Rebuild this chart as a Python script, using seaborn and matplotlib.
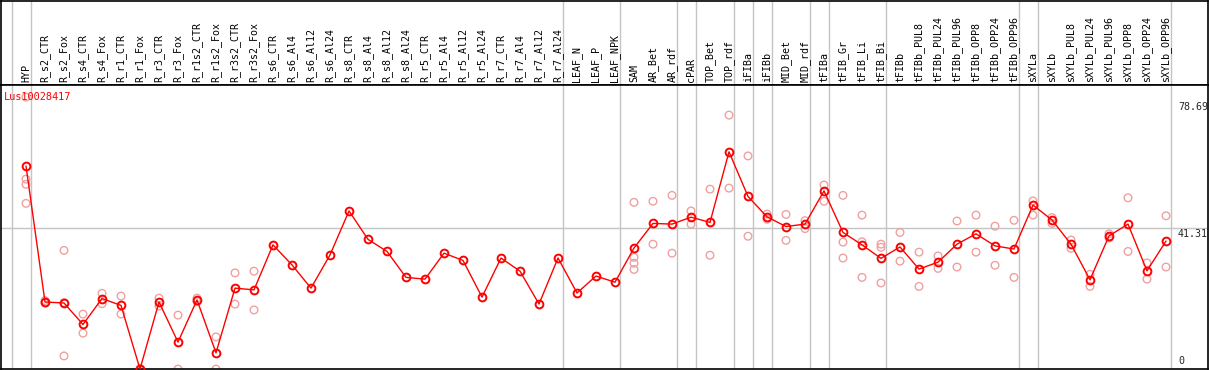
import seaborn as sns
import pandas as pd
import numpy as np
import matplotlib.pyplot as plt

# sample names (one column each)
samples = ["HYP", "R_s2_CTR", "R_s2_Fox", "R_s4_CTR", "R_s4_Fox", "R_r1_CTR", "R_r1_Fox",
           "R_r3_CTR", "R_r3_Fox", "R_r1s2_CTR", "R_r1s2_Fox", "R_r3s2_CTR", "R_r3s2_Fox",
           "R_s6_CTR", "R_s6_Al4", "R_s6_Al12", "R_s6_Al24", "R_s8_CTR", "R_s8_Al4",
           "R_s8_Al12", "R_s8_Al24", "R_r5_CTR", "R_r5_Al4", "R_r5_Al12", "R_r5_Al24",
           "R_r7_CTR", "R_r7_Al4", "R_r7_Al12", "R_r7_Al24", "LEAF_N", "LEAF_P", "LEAF_NPK",
           "SAM", "AR_Bet", "AR_rdf", "cPAR", "TOP_Bet", "TOP_rdf", "iFIBa", "iFIBb",
           "MID_Bet", "MID_rdf", "tFIBa", "tFIB_Gr", "tFIB_Li", "tFIB_Bi", "tFIBb",
           "tFIBb_PUL8", "tFIBb_PUL24", "tFIBb_PUL96", "tFIBb_OPP8", "tFIBb_OPP24",
           "tFIBb_OPP96", "sXYLa", "sXYLb", "sXYLb_PUL8", "sXYLb_PUL24", "sXYLb_PUL96",
           "sXYLb_OPP8", "sXYLb_OPP24", "sXYLb_OPP96"]

# mean expression per sample
means = [59.1, 19.8, 19.5, 13.3, 20.8, 18.8, 0.4, 19.8, 8.2, 20.4, 5.1, 23.8, 23.3,
         36.3, 30.5, 23.8, 33.4, 46.1, 37.9, 34.4, 26.9, 26.4, 33.9, 31.8, 21.2,
         32.5, 28.7, 19.2, 32.5, 22.4, 27.3, 25.5,
         35.4, 42.5, 42.3, 44.3, 42.8, 63.2, 50.3, 44.4, 41.6, 42.3, 51.9, 39.9,
         36.3, 32.4, 35.7, 29.3, 31.3, 36.5, 39.5, 36.0, 35.1, 47.8, 43.5, 36.5,
         26.2, 38.9, 42.3, 28.8, 37.4]

# individual replicates per sample
replicates = [[79.0, 55.3, 53.8, 48.3], [19.5, 20.2], [34.7, 19.6, 4.2], [16.3, 10.8],
              [22.3, 19.3], [21.5, 16.3], [0.2, 0.6], [20.9, 18.6], [16.0, 0.4],
              [20.9, 19.9], [9.7, 0.4], [28.2, 19.2], [28.7, 17.5],
              [], [], [], [], [], [], [], [], [], [], [], [], [], [], [], [], [], [], [],
              [48.6, 32.7, 31.0, 29.2], [48.9, 36.5], [50.6, 33.9], [46.1, 42.3],
              [52.4, 33.3], [73.8, 52.7], [62.0, 38.8], [45.2, 43.7], [45.1, 37.6],
              [43.3, 41.0], [53.6, 48.9], [50.6, 37.1, 32.5], [44.9, 37.2, 26.9],
              [36.5, 35.6, 25.3], [39.9, 31.6], [34.2, 24.3], [33.1, 29.5],
              [43.2, 29.9], [44.9, 34.2], [41.7, 30.4], [43.4, 26.9], [49.0, 44.9],
              [44.2, 42.5], [37.7, 35.3], [27.8, 24.3], [39.5, 38.3], [49.9, 34.4],
              [31.1, 26.4], [44.7, 29.9]]

# group separators (gray lines sit just right of these columns)
separators = [-1, 0, 28, 31, 34, 35, 37, 38, 39, 41, 42, 45, 52, 53, 60]
gene = "Lus10028417"
y_marks = [78.69, 41.31, 0]

pos = np.arange(len(samples))
mean_df = pd.DataFrame({"pos": pos, "value": means})
rep_df = pd.DataFrame([(i, v) for i, reps in enumerate(replicates) for v in reps],
                      columns=["pos", "value"])

sns.set_style("white")
plt.rcParams["font.family"] = ["DejaVu Sans Mono", "DejaVu Sans"]

W, H = 1209, 370
fig = plt.figure(figsize=(W / 100, H / 100), dpi=100)
ax_head = fig.add_axes([1 / W, (H - 85) / H, 1207 / W, 84.5 / H])
ax = fig.add_axes([1 / W, 1 / H, 1207 / W, 284 / H])

xlim = ((1 - 26) / 19, (1208 - 26) / 19)
for a in (ax_head, ax):
    a.set_xlim(*xlim)
    a.set_xticks([])
    a.set_yticks([])
    for s in a.spines.values():
        s.set_color("black")
        s.set_linewidth(1.2)
    for sep in separators:
        a.axvline(sep + 0.24, color="#c4c4c4", lw=1, zorder=0)

ax_head.set_ylim(0, 1)
for i, name in enumerate(samples):
    ax_head.text(i, 0.03, name, rotation=90, ha="center", va="bottom",
                 fontsize=7.2, color="black")

ax.set_ylim(0.43, 82.5)
ax.axhline(41.31, color="#c4c4c4", lw=1, zorder=0)

# replicates
sns.scatterplot(data=rep_df, x="pos", y="value", ax=ax, s=30, marker="o",
                linewidth=1, zorder=2, legend=False)
pts = ax.collections[-1]
pts.set_facecolor("none")
pts.set_edgecolor("#f0a0a0")

# means
sns.lineplot(data=mean_df, x="pos", y="value", ax=ax, color="red", lw=1,
             marker="o", markersize=5.6, markerfacecolor="none",
             markeredgecolor="red", markeredgewidth=1.4, zorder=3)
ax.set_xlabel("")
ax.set_ylabel("")
ax.set_xticks([])
ax.set_yticks([])

ax.text(3 / 1207, 1 - 7 / 284, gene, transform=ax.transAxes, ha="left", va="top",
        fontsize=7.4, color="red")

ylo, yhi = ax.get_ylim()
for v in y_marks:
    if v <= ylo + 1:
        ax.annotate(f"{v:g}", xy=(1177 / 1207, ylo), xycoords=("axes fraction", "data"),
                    xytext=(0, 3), textcoords="offset pixels", ha="left", va="bottom",
                    fontsize=7.2)
    else:
        off = -4 if v > 60 else -1
        ax.annotate(f"{v:.2f}", xy=(1177 / 1207, v), xycoords=("axes fraction", "data"),
                    xytext=(0, off), textcoords="offset pixels", ha="left", va="top",
                    fontsize=7.2)

fig.savefig("out.png", dpi=100)
